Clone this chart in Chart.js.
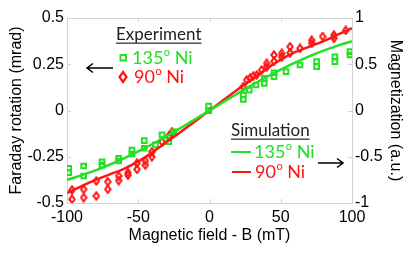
<!DOCTYPE html>
<html>
<head>
<meta charset="utf-8">
<script src="https://cdn.jsdelivr.net/npm/chart.js@4.4.0/dist/chart.umd.min.js"></script>
<style>
  html, body { margin: 0; padding: 0; background: #ffffff; }
  #wrap { width: 415px; height: 254px; position: relative; }
</style>
</head>
<body>
<div id="wrap"><canvas id="c" width="415" height="254"></canvas></div>
<script>
// ---- Data ----
const xTicks = [-100, -50, 0, 50, 100];
const leftTicks = [-0.5, -0.25, 0, 0.25, 0.5];
const rightTicks = [-1, -0.5, 0, 0.5, 1];

// Experiment, 135° Ni (Faraday rotation, mrad)
const exp135Field = [-98.8,-98.8,-88.3,-88.3,-75.4,-75.4,-63.7,-63.7,-54.4,-54.4,-45.8,-45.8,-38,-33.3,-28.6,-25.1,-0.6,-0.6,23.7,23.7,27.9,32.6,38.4,38.4,45.3,45.3,53.7,63.5,75.2,75.2,88,88,98.6,98.6];
const exp135Rot   = [-0.312,-0.336,-0.3,-0.354,-0.277,-0.295,-0.258,-0.273,-0.214,-0.235,-0.163,-0.204,-0.186,-0.132,-0.169,-0.115,0.024,-0.001,0.084,0.06,0.11,0.138,0.174,0.147,0.204,0.183,0.21,0.246,0.264,0.237,0.29,0.264,0.318,0.3];

// Experiment, 90° Ni (Faraday rotation, mrad)
const exp90Field = [-96.5,-96.5,-88.3,-88.3,-79.4,-79.4,-71.4,-71.4,-63.7,-63.7,-57.2,-57.2,-50.9,-50.9,-45,-45,-40.4,-40.4,-33.3,-28.6,-26.3,23.7,26.1,28.4,30.7,33.1,36.6,40.1,40.1,45.3,45.3,50.7,50.7,56.5,56.5,63.5,71.7,71.7,79.4,87.4,87.4,95.6];
const exp90Rot   = [-0.43,-0.48,-0.426,-0.471,-0.381,-0.462,-0.385,-0.426,-0.354,-0.379,-0.336,-0.349,-0.285,-0.318,-0.271,-0.295,-0.223,-0.25,-0.169,-0.138,-0.115,0.129,0.165,0.174,0.186,0.192,0.219,0.255,0.235,0.3,0.266,0.309,0.29,0.345,0.312,0.336,0.38,0.363,0.4,0.408,0.39,0.433];

// Simulation (Magnetization, a.u.)
const simField = [-100,-90,-80,-70,-60,-50,-40,-30,-20,-10,0,10,20,30,40,50,60,70,80,90,100];
const sim135 = [-0.75,-0.701,-0.647,-0.585,-0.517,-0.443,-0.362,-0.277,-0.187,-0.094,0,0.094,0.187,0.277,0.362,0.443,0.517,0.585,0.647,0.701,0.75];
const sim90  = [-0.89,-0.82,-0.75,-0.69,-0.63,-0.55,-0.45,-0.34,-0.23,-0.115,0,0.115,0.23,0.34,0.45,0.55,0.63,0.69,0.75,0.82,0.89];

const GREEN = '#22e022';
const RED = '#ff1414';
const AXIS_FONT = 'Liberation Sans, Arial, sans-serif';
const LEG_FONT = 'Lato, Open Sans, sans-serif';

const pts = (xs, ys) => xs.map((x, i) => ({ x: x, y: ys[i] }));

// tall diamond marker image
function diamondMarker(w, h, color, lw) {
  const c = document.createElement('canvas');
  c.width = w; c.height = h;
  const g = c.getContext('2d');
  g.strokeStyle = color; g.lineWidth = lw;
  const p = lw / 2 + 0.3;
  g.beginPath();
  g.moveTo(w / 2, p); g.lineTo(w - p, h / 2); g.lineTo(w / 2, h - p); g.lineTo(p, h / 2); g.closePath();
  g.stroke();
  return c;
}
const redDiamond = diamondMarker(8, 10, RED, 2);

function drawSup(ctx, x, y, pre, post, size, color) {
  ctx.save();
  ctx.fillStyle = color;
  ctx.textBaseline = 'middle';
  ctx.textAlign = 'left';
  ctx.font = size + 'px ' + LEG_FONT;
  ctx.fillText(pre, x, y);
  let cx = x + ctx.measureText(pre).width + 0.5;
  const s2 = Math.round(size * 0.62);
  ctx.font = s2 + 'px ' + LEG_FONT;
  ctx.fillText('o', cx, y - size * 0.3);
  cx += ctx.measureText('o').width;
  ctx.font = size + 'px ' + LEG_FONT;
  ctx.fillText(post, cx, y);
  ctx.restore();
}

function arrow(ctx, x1, y, x2) {
  ctx.save();
  ctx.strokeStyle = '#000';
  ctx.lineWidth = 1.5;
  ctx.beginPath();
  ctx.moveTo(x1, y); ctx.lineTo(x2, y);
  const d = x2 > x1 ? -1 : 1;
  ctx.moveTo(x2 + d * 6, y - 4.5); ctx.lineTo(x2, y); ctx.lineTo(x2 + d * 6, y + 4.5);
  ctx.stroke();
  ctx.restore();
}

const decor = {
  id: 'decor',
  beforeDatasetsDraw(chart) {
    const { ctx, chartArea: a, scales } = chart;
    ctx.save();
    ctx.strokeStyle = '#d4d4d4';
    ctx.lineWidth = 1;
    ctx.strokeRect(Math.round(a.left) + 0.5, Math.round(a.top) + 0.5, Math.round(a.right - a.left), Math.round(a.bottom - a.top));
    ctx.beginPath();
    const tl = 4;
    xTicks.forEach(v => {
      const px = Math.round(scales.x.getPixelForValue(v)) + 0.5;
      ctx.moveTo(px, a.bottom); ctx.lineTo(px, a.bottom - tl);
      ctx.moveTo(px, a.top); ctx.lineTo(px, a.top + tl);
    });
    leftTicks.forEach(v => {
      const py = Math.round(scales.y.getPixelForValue(v)) + 0.5;
      ctx.moveTo(a.left, py); ctx.lineTo(a.left + tl, py);
    });
    rightTicks.forEach(v => {
      const py = Math.round(scales.y1.getPixelForValue(v)) + 0.5;
      ctx.moveTo(a.right, py); ctx.lineTo(a.right - tl, py);
    });
    ctx.stroke();
    ctx.restore();
  },
  afterDraw(chart) {
    const ctx = chart.ctx;
    ctx.save();
    // Experiment legend
    ctx.fillStyle = '#222';
    ctx.textBaseline = 'middle';
    ctx.textAlign = 'left';
    ctx.font = '17px ' + LEG_FONT;
    ctx.fillText('Experiment', 116, 35);
    let w = ctx.measureText('Experiment').width;
    ctx.fillStyle = '#444';
    ctx.fillRect(116, 42.5, w, 1.4);
    // green square marker
    ctx.strokeStyle = GREEN; ctx.lineWidth = 2;
    ctx.strokeRect(120.5, 55, 5.5, 5.5);
    drawSup(ctx, 132, 58, '135', ' Ni', 18, GREEN);
    // red diamond marker
    ctx.strokeStyle = RED; ctx.lineWidth = 2.2;
    ctx.beginPath();
    ctx.moveTo(123, 72); ctx.lineTo(126.5, 77); ctx.lineTo(123, 82); ctx.lineTo(119.5, 77); ctx.closePath();
    ctx.stroke();
    drawSup(ctx, 134, 77, '90', ' Ni', 18, RED);
    arrow(ctx, 113, 68, 87);

    // Simulation legend
    ctx.fillStyle = '#222';
    ctx.font = '17px ' + LEG_FONT;
    ctx.fillText('Simulation', 231, 131);
    w = ctx.measureText('Simulation').width;
    ctx.fillStyle = '#444';
    ctx.fillRect(231, 138.5, w, 1.4);
    ctx.lineWidth = 2;
    ctx.strokeStyle = GREEN;
    ctx.beginPath(); ctx.moveTo(231, 152); ctx.lineTo(251, 152); ctx.stroke();
    drawSup(ctx, 254, 152, '135', ' Ni', 18, GREEN);
    ctx.strokeStyle = RED;
    ctx.beginPath(); ctx.moveTo(232, 172); ctx.lineTo(251, 172); ctx.stroke();
    drawSup(ctx, 255, 172, '90', ' Ni', 18, RED);
    arrow(ctx, 318, 163, 343);
    ctx.restore();
  }
};

const tickFont = { family: AXIS_FONT, size: 16 };
const titleFont = { family: AXIS_FONT, size: 16 };

new Chart(document.getElementById('c'), {
  type: 'scatter',
  data: {
    datasets: [
      { label: '135º Ni (exp)', data: pts(exp135Field, exp135Rot), yAxisID: 'y',
        pointStyle: 'rect', pointRadius: 3.3, borderColor: GREEN, backgroundColor: 'rgba(0,0,0,0)', borderWidth: 2, order: 2 },
      { label: '90º Ni (exp)', data: pts(exp90Field, exp90Rot), yAxisID: 'y',
        pointStyle: redDiamond, pointRadius: 4, borderColor: RED, backgroundColor: 'rgba(0,0,0,0)', borderWidth: 2, order: 2 },
      { type: 'line', label: '135º Ni (sim)', data: pts(simField, sim135), yAxisID: 'y1',
        borderColor: GREEN, borderWidth: 2.5, pointRadius: 0, tension: 0.4, fill: false, order: 1 },
      { type: 'line', label: '90º Ni (sim)', data: pts(simField, sim90), yAxisID: 'y1',
        borderColor: RED, borderWidth: 2.5, pointRadius: 0, tension: 0.4, fill: false, order: 1 }
    ]
  },
  options: {
    responsive: false,
    animation: false,
    devicePixelRatio: 1,
    layout: { padding: { top: 18, left: 0, right: 0, bottom: 0 } },
    plugins: { legend: { display: false }, tooltip: { enabled: false } },
    scales: {
      x: {
        type: 'linear', min: -100, max: 100,
        afterFit: s => { s.height = 51; },
        afterBuildTicks: s => { s.ticks = xTicks.map(v => ({ value: v })); },
        grid: { display: false, drawTicks: false },
        border: { display: false },
        ticks: { font: tickFont, color: '#000', padding: 5, maxRotation: 0 },
        title: { display: true, text: 'Magnetic field - B (mT)', font: titleFont, color: '#000', padding: { top: 0, bottom: 9 } }
      },
      y: {
        type: 'linear', position: 'left', min: -0.5, max: 0.5,
        afterFit: s => { s.width = 67; },
        afterBuildTicks: s => { s.ticks = leftTicks.map(v => ({ value: v })); },
        grid: { display: false, drawTicks: false },
        border: { display: false },
        ticks: { font: tickFont, color: '#000', padding: 3, callback: v => String(v) },
        title: { display: true, text: 'Faraday rotation (mrad)', font: titleFont, color: '#000', padding: { top: 7, bottom: 0 } }
      },
      y1: {
        type: 'linear', position: 'right', min: -1, max: 1,
        afterFit: s => { s.width = 63; },
        afterBuildTicks: s => { s.ticks = rightTicks.map(v => ({ value: v })); },
        grid: { display: false, drawTicks: false },
        border: { display: false },
        ticks: { font: tickFont, color: '#000', padding: 3, callback: v => String(v) },
        title: { display: true, text: 'Magnetization (a.u.)', font: titleFont, color: '#000', padding: { top: 10, bottom: 0 } }
      }
    }
  },
  plugins: [decor]
});
</script>
</body>
</html>
